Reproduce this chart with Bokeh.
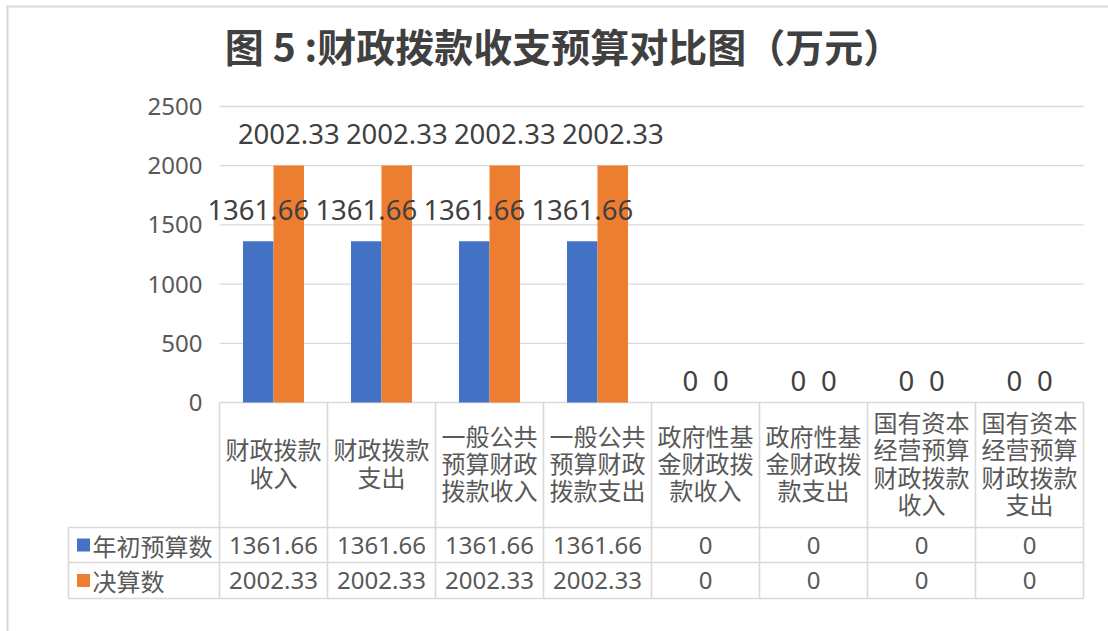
from bokeh.plotting import figure
from bokeh.models import Range1d, Label
from bokeh.core.properties import value
from bokeh.embed import file_html
from bokeh.resources import INLINE

# ---------------- data ----------------
title_text = "图 5 :财政拨款收支预算对比图（万元）"
categories = [
    "财政拨款\n收入",
    "财政拨款\n支出",
    "一般公共\n预算财政\n拨款收入",
    "一般公共\n预算财政\n拨款支出",
    "政府性基\n金财政拨\n款收入",
    "政府性基\n金财政拨\n款支出",
    "国有资本\n经营预算\n财政拨款\n收入",
    "国有资本\n经营预算\n财政拨款\n支出",
]
series_names = ["年初预算数", "决算数"]
budget = [1361.66, 1361.66, 1361.66, 1361.66, 0, 0, 0, 0]
final = [2002.33, 2002.33, 2002.33, 2002.33, 0, 0, 0, 0]
y_ticks = [0, 500, 1000, 1500, 2000, 2500]
y_tick_labels = ["0", "500", "1000", "1500", "2000", "2500"]

# ---------------- styling / layout ----------------
BLUE = "#4472C4"
ORANGE = "#ED7D31"
GRID = "#d9d9d9"
TXT = "#595959"
LBL = "#404040"
NUM_FONT = value("Noto Sans")
CJK_FONT = value("Noto Sans CJK SC")

W, H = 1108, 631
PLOT_LEFT = 219          # px of category axis start
CAT_W = 108              # px per category
Y0 = 402                 # px of value 0
K = 296 / 2500           # px per value unit
BAR_W = 30.5 / CAT_W

def px_x(cx):
    return (cx - PLOT_LEFT) / CAT_W

def px_y(cy):
    return (Y0 - cy) / K

HEADER_BOTTOM = 527
ROW1_BOTTOM = 562
ROW2_BOTTOM = 598
TABLE_LEFT = 68

n = len(categories)
centers = [i + 0.5 for i in range(n)]
x_blue = [c - BAR_W / 2 for c in centers]
x_orange = [c + BAR_W / 2 for c in centers]

p = figure(width=W, height=H,
           x_range=Range1d(px_x(0), px_x(W)),
           y_range=Range1d(px_y(H), px_y(0)),
           x_axis_location=None, y_axis_location=None,
           min_border=0, toolbar_location=None, output_backend="svg")
p.grid.visible = False
p.outline_line_color = None
p.background_fill_color = "white"
p.border_fill_color = "white"

# outer border (top & left)
p.segment(x0=[px_x(6), px_x(7)], y0=[px_y(6), px_y(5)],
          x1=[px_x(W), px_x(7)], y1=[px_y(6), px_y(H)],
          line_color=GRID, line_width=2)

# gridlines
p.segment(x0=[0] * len(y_ticks), y0=y_ticks, x1=[n] * len(y_ticks), y1=y_ticks,
          line_color=GRID, line_width=1.3)

# y tick labels
p.text(x=[0] * len(y_ticks), y=y_ticks, text=y_tick_labels, x_offset=-17,
       text_align="right", text_baseline="middle", text_font=NUM_FONT,
       text_font_size="24px", text_color=TXT)

# bars
p.vbar(x=x_blue, top=budget, bottom=0, width=BAR_W, fill_color=BLUE, line_color=None)
p.vbar(x=x_orange, top=final, bottom=0, width=BAR_W, fill_color=ORANGE, line_color=None)

# data labels
def fmt(v):
    return f"{v:g}"

for xs, vals in ((x_blue, budget), (x_orange, final)):
    nz = [(x, v) for x, v in zip(xs, vals) if v != 0]
    z = [(x, v) for x, v in zip(xs, vals) if v == 0]
    if nz:
        p.text(x=[a for a, _ in nz], y=[b for _, b in nz], text=[fmt(b) for _, b in nz],
               y_offset=-31, text_align="center", text_baseline="middle",
               text_font=NUM_FONT, text_font_size="27.5px", text_color=LBL)
    if z:
        p.text(x=[a for a, _ in z], y=[b for _, b in z], text=[fmt(b) for _, b in z],
               y_offset=-22, text_align="center", text_baseline="middle",
               text_font=NUM_FONT, text_font_size="27.5px", text_color=LBL)

# table lines
y_h = px_y(HEADER_BOTTOM)
y_r1 = px_y(ROW1_BOTTOM)
y_r2 = px_y(ROW2_BOTTOM)
x_tl = px_x(TABLE_LEFT)
p.segment(x0=[x_tl, x_tl, x_tl], y0=[y_h, y_r1, y_r2], x1=[n, n, n], y1=[y_h, y_r1, y_r2],
          line_color=GRID, line_width=1.6)
p.segment(x0=list(range(n + 1)), y0=[0] * (n + 1), x1=list(range(n + 1)), y1=[y_r2] * (n + 1),
          line_color=GRID, line_width=1.6)
p.segment(x0=[x_tl], y0=[y_h], x1=[x_tl], y1=[y_r2], line_color=GRID, line_width=1.6)

# header category labels
p.text(x=centers, y=[px_y((Y0 + HEADER_BOTTOM) / 2 - 2.5)] * n, text=categories,
       text_align="center", text_baseline="middle", text_font=CJK_FONT,
       text_font_size="24px", text_color=TXT, text_line_height=0.785)

# table values
row_mid1 = px_y((HEADER_BOTTOM + ROW1_BOTTOM) / 2)
row_mid2 = px_y((ROW1_BOTTOM + ROW2_BOTTOM) / 2)
p.text(x=centers, y=[row_mid1] * n, text=[fmt(v) for v in budget],
       text_align="center", text_baseline="middle", text_font=NUM_FONT,
       text_font_size="24px", text_color=TXT)
p.text(x=centers, y=[row_mid2] * n, text=[fmt(v) for v in final],
       text_align="center", text_baseline="middle", text_font=NUM_FONT,
       text_font_size="24px", text_color=TXT)

# legend keys in the table
p.scatter(x=[px_x(83)] * 2, y=[row_mid1, row_mid2], marker="square", size=13,
          fill_color=[BLUE, ORANGE], line_color=None)
p.text(x=[px_x(92)] * 2, y=[row_mid1, row_mid2], text=series_names,
       text_align="left", text_baseline="middle", text_font=CJK_FONT,
       text_font_size="24px", text_color=TXT)

# title
p.add_layout(Label(x=563, y=H - 44, x_units="screen", y_units="screen",
                   text=title_text, text_align="center", text_baseline="middle",
                   text_font="Noto Sans CJK SC", text_font_style="bold",
                   text_font_size="39px", text_color=LBL))

open("out.html", "w").write(file_html(p, INLINE))
